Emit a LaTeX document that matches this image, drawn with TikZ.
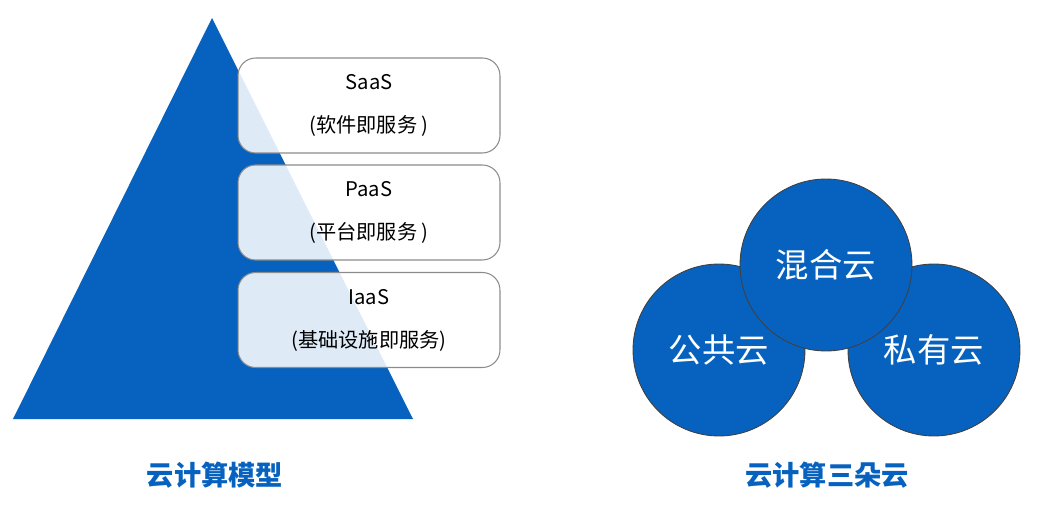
\documentclass[tikz,border=0pt]{standalone}
\usepackage{fontspec}
\setmainfont{Noto Sans CJK SC}
\usepackage{tikz}

\definecolor{cloudblue}{RGB}{6,98,190}

\tikzset{
  tier/.style={draw=black!45, line width=0.6pt, rounded corners=10pt, fill=white,
    fill opacity=0.87, text opacity=1, minimum width=5.24cm, minimum height=1.9cm,
    align=center, font=\fontsize{11.5}{24.5}\selectfont},
  cloud/.style={circle, draw=black!75, line width=0.5pt, fill=cloudblue,
    minimum size=3.44cm, text=white, font=\fontsize{19}{22}\selectfont},
  caption/.style={text=cloudblue, font=\fontsize{15.5}{18}\selectfont\bfseries}
}

\begin{document}
\begin{tikzpicture}[x=0.02cm, y=-0.02cm]
\useasboundingbox (0,0) rectangle (1049,510);

\fill[cloudblue] (212,18) -- (413,419) -- (13,419) -- cycle;

\node[tier] (saas) at (369,105.5) {SaaS\\(软件即服务 )};
\node[tier] (paas) at (369,212.5) {PaaS\\(平台即服务 )};
\node[tier] (iaas) at (369,320) {IaaS\\(基础设施即服务)};

\node[caption] (model) at (215,475) {云计算模型};

\node[cloud] (public) at (719,350) {公共云};
\node[cloud] (private) at (934,350) {私有云};
\node[cloud] (hybrid) at (826,265) {混合云};

\node[caption] (three) at (827,475) {云计算三朵云};

\end{tikzpicture}
\end{document}
